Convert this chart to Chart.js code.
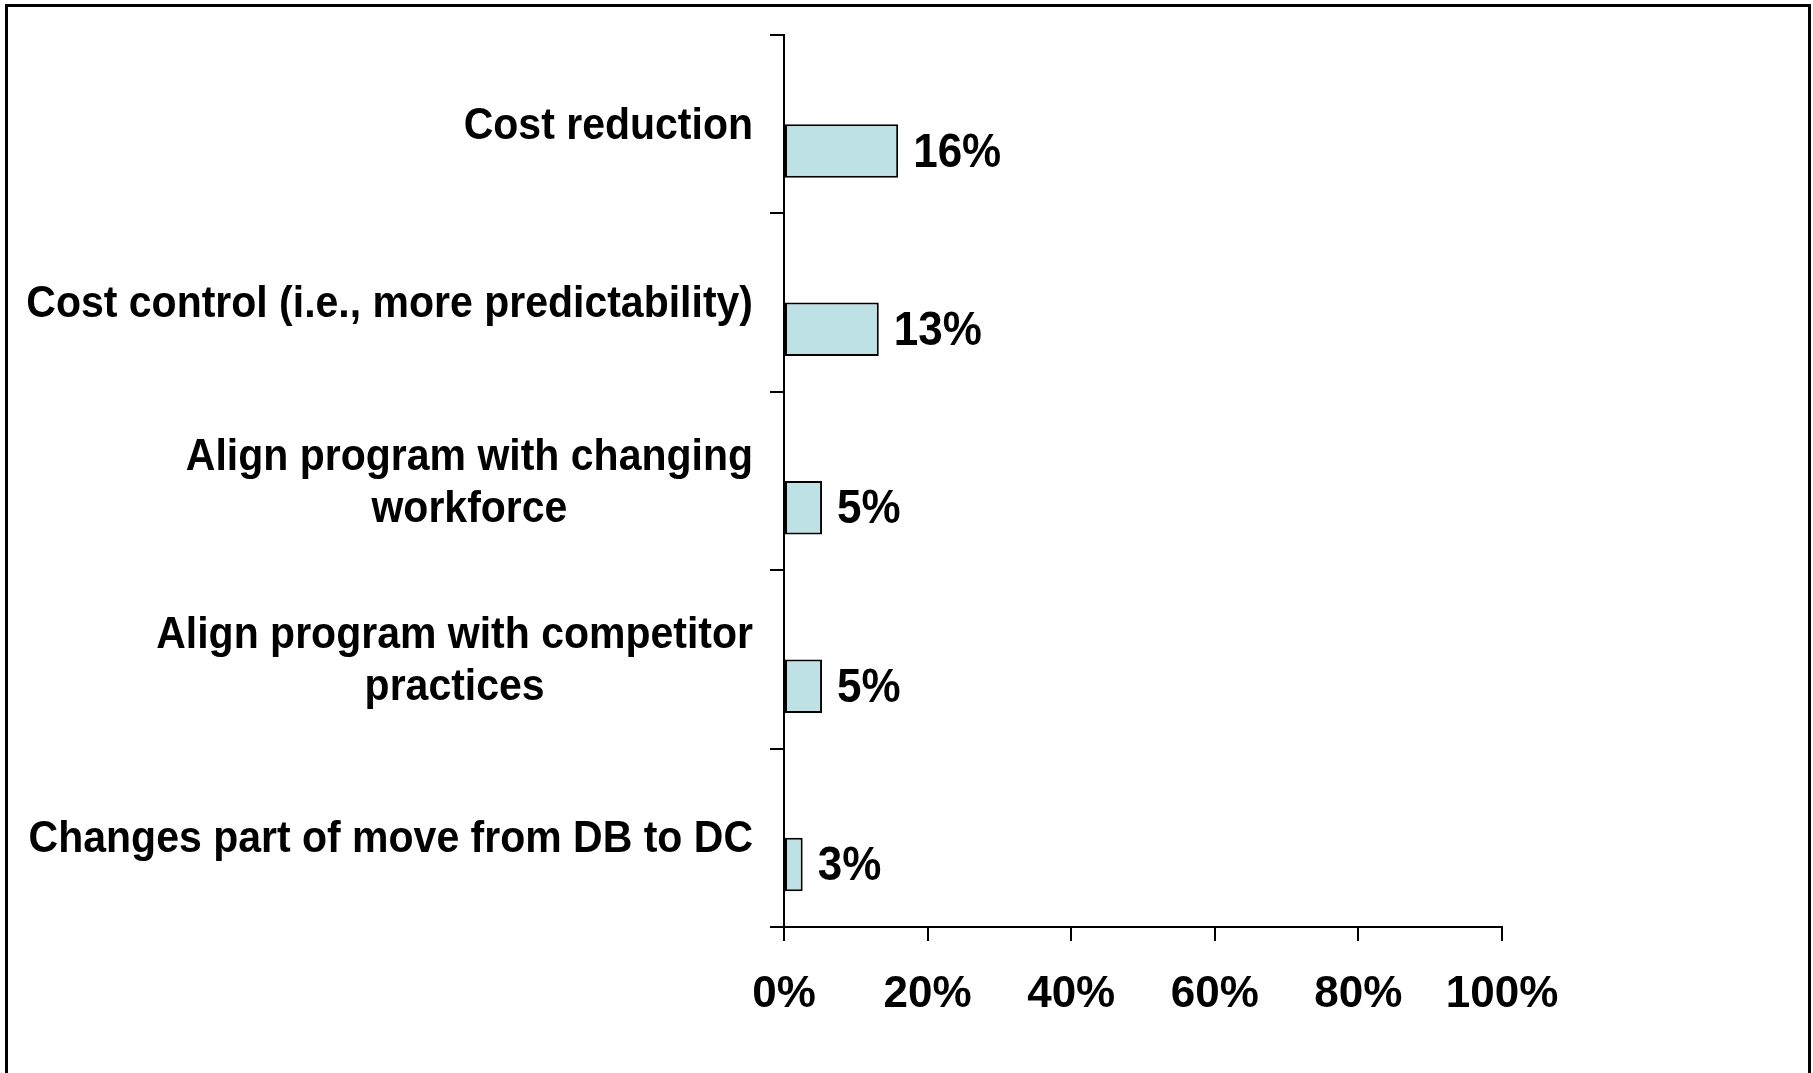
<!DOCTYPE html>
<html>
<head>
<meta charset="utf-8">
<script src="https://cdn.jsdelivr.net/npm/chart.js@4.4.0/dist/chart.umd.min.js"></script>
<style>
  html, body { margin: 0; padding: 0; background: #fff; overflow: hidden; }
  #wrap { position: relative; width: 1813px; height: 1073px; }
  #frame {
    position: absolute; left: 5px; top: 4px; width: 1800px; height: 1200px;
    border: 3px solid #000; pointer-events: none;
  }
</style>
</head>
<body>
<div id="wrap">
  <canvas id="chart" width="1813" height="1073"></canvas>
  <div id="frame"></div>
</div>
<script>
const categories = [
  'Cost reduction',
  'Cost control (i.e., more predictability)',
  ['Align program with changing', 'workforce'],
  ['Align program with competitor', 'practices'],
  'Changes part of move from DB to DC'
];
const values = [15.9, 13.2, 5.3, 5.3, 2.6];
const valueLabels = ['16%', '13%', '5%', '5%', '3%'];
const xTicks = [0, 20, 40, 60, 80, 100];

const FONT = '"Liberation Sans", Arial, Helvetica, sans-serif';
const STRETCH = 1.1; // the original text looks a bit tall

// category labels: each line centred on the others, block right aligned
const catLabels = {
  id: 'catLabels',
  afterDraw(chart) {
    const c = chart.ctx;
    const ys = chart.scales.y;
    const right = chart.chartArea.left - 31;
    const lineH = 52;
    c.save();
    c.font = 'bold 41px ' + FONT;
    c.fillStyle = '#000';
    c.textAlign = 'center';
    c.textBaseline = 'middle';
    categories.forEach((lab, i) => {
      const lines = Array.isArray(lab) ? lab : [lab];
      const w = Math.max(...lines.map(l => c.measureText(l).width));
      const cx = right - w / 2;
      const cy = ys.getPixelForValue(i);
      lines.forEach((l, j) => {
        c.save();
        c.translate(cx, cy + (j - (lines.length - 1) / 2) * lineH);
        c.scale(1, STRETCH);
        c.fillText(l, 0, 2);
        c.restore();
      });
    });
    c.restore();
  }
};

const barLabels = {
  id: 'barLabels',
  afterDatasetsDraw(chart) {
    const c = chart.ctx;
    const meta = chart.getDatasetMeta(1);
    c.save();
    c.font = 'bold 44px ' + FONT;
    c.fillStyle = '#000';
    c.textAlign = 'left';
    c.textBaseline = 'middle';
    meta.data.forEach((bar, i) => {
      c.save();
      c.translate(bar.x + 15, bar.y);
      c.scale(1, STRETCH);
      c.fillText(valueLabels[i], 0, 2);
      c.restore();
    });
    c.restore();
  }
};

const ctx = document.getElementById('chart').getContext('2d');
const chart = new Chart(ctx, {
  type: 'bar',
  data: {
    labels: categories,
    datasets: [{
      data: categories.map(() => null)
    }, {
      data: values,
      backgroundColor: '#bde1e4',
      borderColor: '#000',
      borderWidth: 2,
      borderSkipped: false
    }]
  },
  plugins: [catLabels, barLabels],
  options: {
    indexAxis: 'y',
    responsive: false,
    animation: false,
    categoryPercentage: 0.6,
    barPercentage: 1,
    layout: { padding: { top: 35, right: 311, bottom: 0, left: 0 } },
    plugins: {
      legend: { display: false },
      tooltip: { enabled: false }
    },
    scales: {
      x: {
        min: 0,
        max: 100,
        afterBuildTicks: (s) => { s.ticks = xTicks.map(v => ({ value: v })); },
        afterFit: (s) => { s.height = 146; },
        border: { display: true, color: '#000', width: 2 },
        grid: { drawOnChartArea: false, drawTicks: true, tickLength: 14, color: '#000', lineWidth: 2 },
        ticks: {
          color: '#000',
          padding: 27,
          maxRotation: 0,
          font: { family: FONT, size: 44, weight: 'bold' },
          callback: (v) => v + '%'
        }
      },
      y: {
        afterFit: (s) => { s.width = 784; s.paddingTop = 0; s.paddingBottom = 0; },
        border: { display: true, color: '#000', width: 2 },
        grid: { offset: true, drawOnChartArea: false, drawTicks: true, tickLength: 14, color: '#000', lineWidth: 2 },
        ticks: { display: false }
      }
    }
  }
});
</script>
</body>
</html>
